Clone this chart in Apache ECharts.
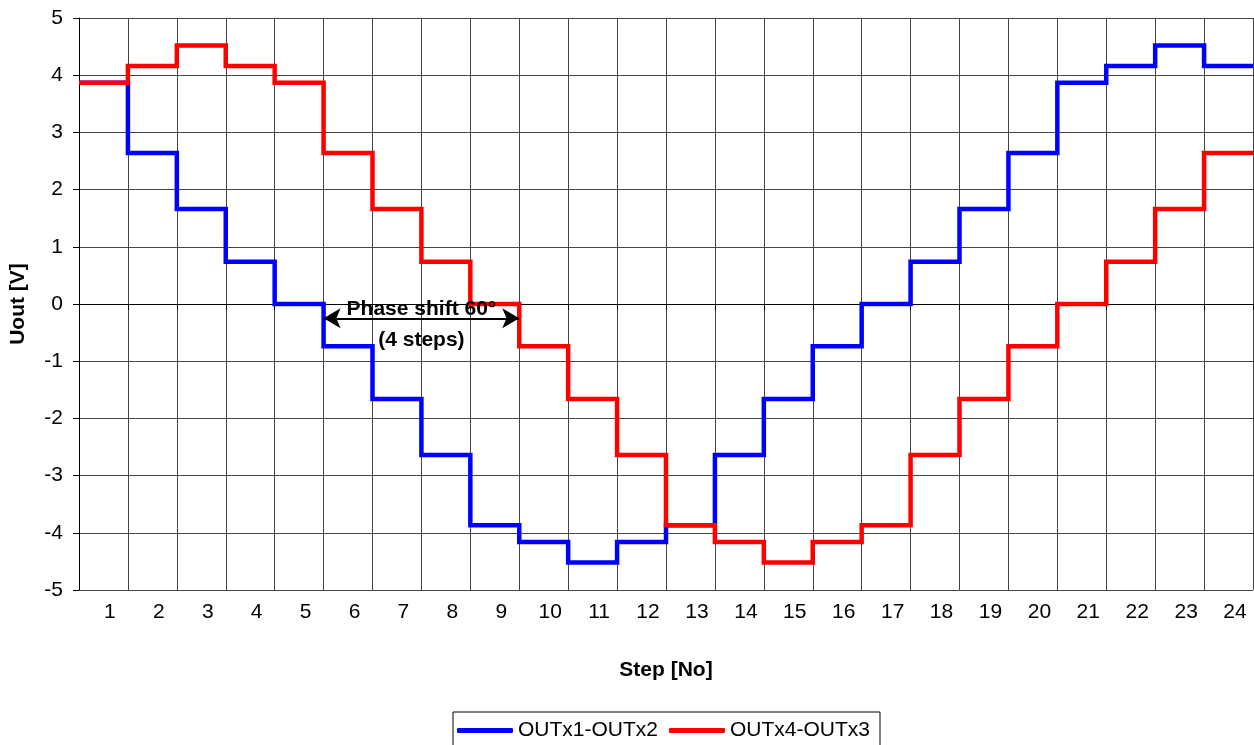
<!DOCTYPE html>
<html>
<head>
<meta charset="utf-8">
<script src="https://cdn.jsdelivr.net/npm/echarts@6/dist/echarts.min.js"></script>
<style>
html,body{margin:0;padding:0;background:#fff;}
#chart{width:1254px;height:745px;}
</style>
</head>
<body>
<div id="chart"></div>
<script>
var stepLabels = ['1','2','3','4','5','6','7','8','9','10','11','12','13','14','15','16','17','18','19','20','21','22','23','24'];
var out12 = [3.87, 2.64, 1.66, 0.74, 0, -0.74, -1.66, -2.64, -3.87, -4.16, -4.52, -4.16, -3.87, -2.64, -1.66, -0.74, 0, 0.74, 1.66, 2.64, 3.87, 4.16, 4.52, 4.16];
var out43 = [3.87, 4.16, 4.52, 4.16, 3.87, 2.64, 1.66, 0.74, 0, -0.74, -1.66, -2.64, -3.87, -4.16, -4.52, -4.16, -3.87, -2.64, -1.66, -0.74, 0, 0.74, 1.66, 2.64];
var phaseFrom = 5, phaseTo = 9, phaseLevel = -0.25;

function stepPoints(vals){
  var p = vals.map(function(v,i){ return [i, v]; });
  p.push([vals.length, vals[vals.length-1]]);
  return p;
}

var font = 'Liberation Sans, Arial, sans-serif';
var gridColor = '#444';
var chart = echarts.init(document.getElementById('chart'));
chart.setOption({
  animation:false,
  textStyle:{fontFamily:font},
  grid:{left:77, right:1, top:18, bottom:155, containLabel:false},
  xAxis:[{
    type:'category', data:stepLabels, boundaryGap:true,
    axisLine:{lineStyle:{color:'#000', width:1}},
    axisTick:{show:true, length:6, lineStyle:{color:'#000'}},
    axisLabel:{color:'#000', fontSize:21, margin:12, fontFamily:font, padding:[0,0,0,13]},
    splitLine:{show:true, lineStyle:{color:gridColor, width:1}},
    name:'Step [No]', nameLocation:'middle', nameGap:70,
    nameTextStyle:{fontSize:21, fontWeight:'bold', color:'#000', fontFamily:font}
  },{
    type:'value', min:0, max:24, show:false, position:'top'
  }],
  yAxis:{
    type:'value', min:-5, max:5, interval:1,
    axisLine:{show:true, lineStyle:{color:'#000', width:1}},
    axisTick:{show:true, length:6, lineStyle:{color:'#000'}},
    axisLabel:{color:'#000', fontSize:21, margin:16, fontFamily:font},
    splitLine:{show:true, lineStyle:{color:gridColor, width:1}},
    name:'Uout [V]', nameLocation:'middle', nameGap:50, nameRotate:90,
    nameTextStyle:{fontSize:21, fontWeight:'bold', color:'#000', fontFamily:font}
  },
  legend:{
    top:712, left:453,
    data:['OUTx1-OUTx2','OUTx4-OUTx3'],
    icon:'roundRect', itemWidth:56, itemHeight:5, itemGap:11,
    borderColor:'#000', borderWidth:1, padding:[8,10,8,4],
    textStyle:{fontSize:21, color:'#000', fontFamily:font}
  },
  series:[{
    name:'OUTx1-OUTx2', type:'line', xAxisIndex:1, step:'end',
    data:stepPoints(out12), symbol:'none', color:'#0000ff',
    lineStyle:{width:4.5, color:'#0000ff', join:'miter', cap:'butt'}, z:2
  },{
    name:'OUTx4-OUTx3', type:'line', xAxisIndex:1, step:'end',
    data:stepPoints(out43), symbol:'none', color:'#ff0000',
    lineStyle:{width:4.5, color:'#ff0000', join:'miter', cap:'butt'}, z:3,
    markLine:{
      silent:true, symbol:['arrow','arrow'], symbolSize:[15,17],
      lineStyle:{color:'#000', width:2, type:'solid'},
      label:{show:false},
      data:[[{coord:[phaseFrom, phaseLevel]},{coord:[phaseTo, phaseLevel]}]]
    },
    markPoint:{
      silent:true, symbol:'circle', symbolSize:0,
      label:{show:true, position:'inside', formatter:'Phase shift 60°\n(4 steps)',
        fontSize:21, fontWeight:'bold', color:'#000', lineHeight:31, offset:[0,6], fontFamily:font},
      data:[{coord:[(phaseFrom+phaseTo)/2, phaseLevel]}]
    }
  }]
});
</script>
</body>
</html>
